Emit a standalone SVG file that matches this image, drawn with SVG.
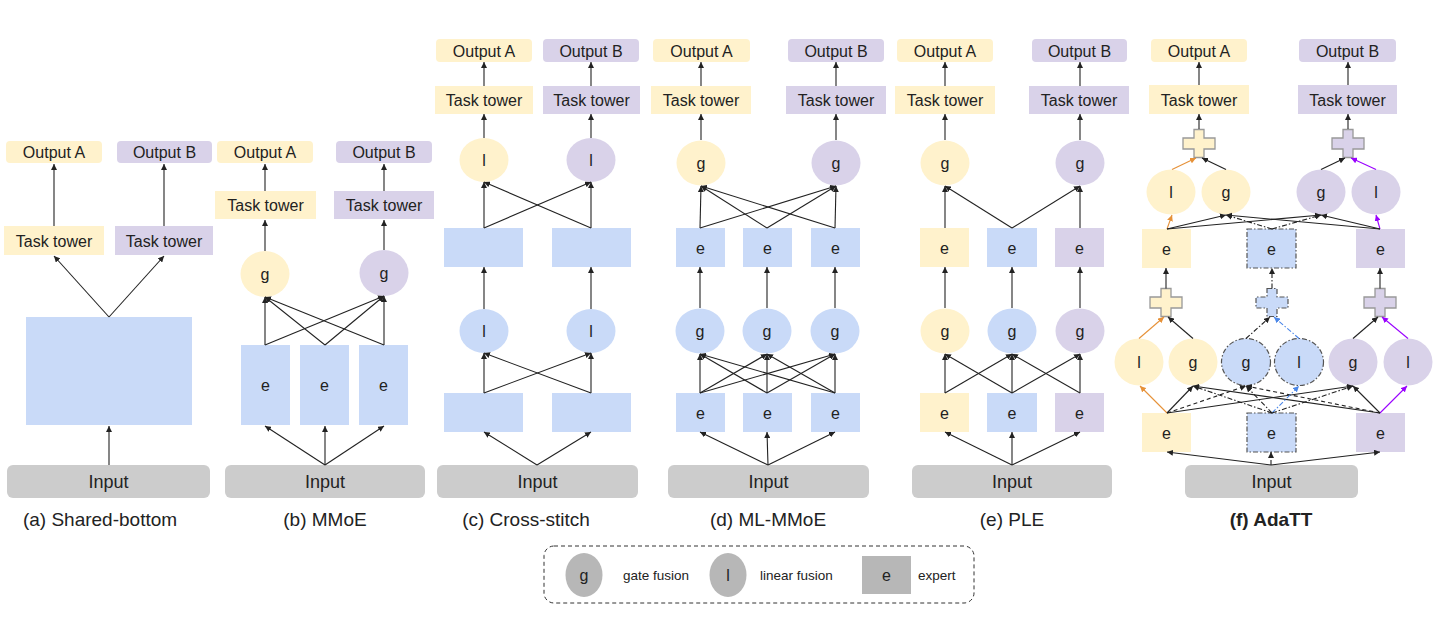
<svg xmlns="http://www.w3.org/2000/svg" width="1435" height="642" viewBox="0 0 1435 642">
<style>
text{font-family:"Liberation Sans",Arial,sans-serif;font-size:16px;fill:#222;text-anchor:middle}
.in{font-size:18px}
.cap{font-size:19px}
.bold{font-weight:bold}
.lgt{font-size:13.5px;text-anchor:start}
.yl{fill:#fff2cc}.pu{fill:#d9d2e9}.bl{fill:#c9daf8}.gr{fill:#cccccc}.lg{fill:#b7b7b7}
.ln{stroke:#222;stroke-width:1.1;fill:none;marker-end:url(#a)}
.or{stroke:#e69138;marker-end:url(#ao)}
.pp{stroke:#9900ff;marker-end:url(#ap)}
.bd{stroke:#4a86e8;marker-end:url(#ab)}
.dd{stroke-dasharray:5 2 1.5 2}
.ds{stroke-dasharray:4 3}
.bdr{stroke:#555;stroke-width:1.2;stroke-dasharray:5 2 1.5 2}
.plus{stroke:#999;stroke-width:1.3}
</style>
<defs>
<marker id="a" viewBox="0 0 6 6" refX="6" refY="3" markerWidth="6" markerHeight="6" markerUnits="userSpaceOnUse" orient="auto"><path d="M0,0L6,3L0,6z" fill="#222"/></marker>
<marker id="ao" viewBox="0 0 6 6" refX="6" refY="3" markerWidth="6" markerHeight="6" markerUnits="userSpaceOnUse" orient="auto"><path d="M0,0L6,3L0,6z" fill="#e69138"/></marker>
<marker id="ap" viewBox="0 0 6 6" refX="6" refY="3" markerWidth="6" markerHeight="6" markerUnits="userSpaceOnUse" orient="auto"><path d="M0,0L6,3L0,6z" fill="#9900ff"/></marker>
<marker id="ab" viewBox="0 0 6 6" refX="6" refY="3" markerWidth="6" markerHeight="6" markerUnits="userSpaceOnUse" orient="auto"><path d="M0,0L6,3L0,6z" fill="#4a86e8"/></marker>
<path id="plus" d="M-5,-14H5V-5.5H16V5.5H5V14H-5V5.5H-16V-5.5H-5Z"/>
</defs>

<!-- (a) Shared-bottom -->
<g id="a-outA"><rect class="yl" x="6" y="141" width="96" height="22" rx="4"/><text x="54" y="158">Output A</text></g>
<g id="a-outB"><rect class="pu" x="117" y="141" width="95" height="22" rx="4"/><text x="164.5" y="158">Output B</text></g>
<g id="a-towA"><rect class="yl" x="4" y="226" width="100" height="29"/><text x="54" y="246.5">Task tower</text></g>
<g id="a-towB"><rect class="pu" x="115" y="226" width="98" height="29"/><text x="164" y="246.5">Task tower</text></g>
<g id="a-shared"><rect class="bl" x="26" y="317" width="166" height="108"/></g>
<g id="a-input"><rect class="gr" x="7" y="465" width="203" height="33" rx="6"/><text class="in" x="108.5" y="488">Input</text></g>
<text class="cap" x="100" y="526">(a) Shared-bottom</text>

<!-- (b) MMoE -->
<g id="b-outA"><rect class="yl" x="217" y="141" width="96" height="22" rx="4"/><text x="265" y="158">Output A</text></g>
<g id="b-outB"><rect class="pu" x="336" y="141" width="96" height="22" rx="4"/><text x="384" y="158">Output B</text></g>
<g id="b-towA"><rect class="yl" x="215" y="191" width="101" height="28"/><text x="265.5" y="211">Task tower</text></g>
<g id="b-towB"><rect class="pu" x="334" y="191" width="100" height="28"/><text x="384" y="211">Task tower</text></g>
<g id="b-gA"><ellipse class="yl" cx="265" cy="274" rx="24.5" ry="23"/><text x="265" y="280">g</text></g>
<g id="b-gB"><ellipse class="pu" cx="384" cy="273" rx="24.5" ry="23"/><text x="384" y="279">g</text></g>
<g id="b-e1"><rect class="bl" x="241" y="345" width="49" height="80"/><text x="265.5" y="391">e</text></g>
<g id="b-e2"><rect class="bl" x="300" y="345" width="49" height="80"/><text x="324.5" y="391">e</text></g>
<g id="b-e3"><rect class="bl" x="359" y="345" width="49" height="80"/><text x="383.5" y="391">e</text></g>
<g id="b-input"><rect class="gr" x="225" y="465" width="200" height="33" rx="6"/><text class="in" x="325" y="488">Input</text></g>
<text class="cap" x="325" y="526">(b) MMoE</text>

<!-- (c) Cross-stitch -->
<g id="c-outA"><rect class="yl" x="436" y="39" width="96" height="23" rx="4"/><text x="484" y="56.5">Output A</text></g>
<g id="c-outB"><rect class="pu" x="543" y="39" width="96" height="23" rx="4"/><text x="591" y="56.5">Output B</text></g>
<g id="c-towA"><rect class="yl" x="435" y="86" width="98" height="28"/><text x="484" y="106">Task tower</text></g>
<g id="c-towB"><rect class="pu" x="543" y="86" width="97" height="28"/><text x="591.5" y="106">Task tower</text></g>
<g id="c-lA"><ellipse class="yl" cx="484" cy="160" rx="24.5" ry="22"/><text x="484" y="166">l</text></g>
<g id="c-lB"><ellipse class="pu" cx="591" cy="160" rx="24.5" ry="22"/><text x="591" y="166">l</text></g>
<g id="c-u1"><rect class="bl" x="444" y="228" width="79" height="39"/></g>
<g id="c-u2"><rect class="bl" x="552" y="228" width="79" height="39"/></g>
<g id="c-l1"><ellipse class="bl" cx="484" cy="331" rx="24.5" ry="22"/><text x="484" y="337">l</text></g>
<g id="c-l2"><ellipse class="bl" cx="591" cy="331" rx="24.5" ry="22"/><text x="591" y="337">l</text></g>
<g id="c-d1"><rect class="bl" x="444" y="393" width="79" height="39"/></g>
<g id="c-d2"><rect class="bl" x="552" y="393" width="79" height="39"/></g>
<g id="c-input"><rect class="gr" x="437" y="465" width="201" height="33" rx="6"/><text class="in" x="537.5" y="488">Input</text></g>
<text class="cap" x="526" y="526">(c) Cross-stitch</text>

<!-- (d) ML-MMoE -->
<g id="d-outA"><rect class="yl" x="653" y="39" width="97" height="23" rx="4"/><text x="701.5" y="56.5">Output A</text></g>
<g id="d-outB"><rect class="pu" x="788" y="39" width="96" height="23" rx="4"/><text x="836" y="56.5">Output B</text></g>
<g id="d-towA"><rect class="yl" x="651" y="86" width="100" height="28"/><text x="701" y="106">Task tower</text></g>
<g id="d-towB"><rect class="pu" x="786" y="86" width="100" height="28"/><text x="836" y="106">Task tower</text></g>
<g id="d-gA"><ellipse class="yl" cx="701" cy="163" rx="24.5" ry="22.5"/><text x="701" y="169">g</text></g>
<g id="d-gB"><ellipse class="pu" cx="836" cy="163" rx="24.5" ry="22.5"/><text x="836" y="169">g</text></g>
<g id="d-ue1"><rect class="bl" x="676" y="228" width="49" height="39"/><text x="700.5" y="253.5">e</text></g>
<g id="d-ue2"><rect class="bl" x="743" y="228" width="49" height="39"/><text x="767.5" y="253.5">e</text></g>
<g id="d-ue3"><rect class="bl" x="811" y="228" width="49" height="39"/><text x="835.5" y="253.5">e</text></g>
<g id="d-g1"><ellipse class="bl" cx="700" cy="331" rx="24.5" ry="22.5"/><text x="700" y="337">g</text></g>
<g id="d-g2"><ellipse class="bl" cx="767" cy="331" rx="24.5" ry="22.5"/><text x="767" y="337">g</text></g>
<g id="d-g3"><ellipse class="bl" cx="835" cy="331" rx="24.5" ry="22.5"/><text x="835" y="337">g</text></g>
<g id="d-le1"><rect class="bl" x="676" y="393" width="49" height="39"/><text x="700.5" y="418.5">e</text></g>
<g id="d-le2"><rect class="bl" x="743" y="393" width="49" height="39"/><text x="767.5" y="418.5">e</text></g>
<g id="d-le3"><rect class="bl" x="811" y="393" width="49" height="39"/><text x="835.5" y="418.5">e</text></g>
<g id="d-input"><rect class="gr" x="668" y="465" width="201" height="33" rx="6"/><text class="in" x="768.5" y="488">Input</text></g>
<text class="cap" x="768" y="526">(d) ML-MMoE</text>

<!-- (e) PLE -->
<g id="e-outA"><rect class="yl" x="897" y="39" width="96" height="23" rx="4"/><text x="945" y="56.5">Output A</text></g>
<g id="e-outB"><rect class="pu" x="1032" y="39" width="95" height="23" rx="4"/><text x="1079.5" y="56.5">Output B</text></g>
<g id="e-towA"><rect class="yl" x="895" y="86" width="100" height="28"/><text x="945" y="106">Task tower</text></g>
<g id="e-towB"><rect class="pu" x="1029" y="86" width="100" height="28"/><text x="1079" y="106">Task tower</text></g>
<g id="e-gA"><ellipse class="yl" cx="945" cy="163" rx="24.5" ry="22.5"/><text x="945" y="169">g</text></g>
<g id="e-gB"><ellipse class="pu" cx="1080" cy="163" rx="24.5" ry="22.5"/><text x="1080" y="169">g</text></g>
<g id="e-ue1"><rect class="yl" x="920" y="228" width="49" height="39"/><text x="944.5" y="253.5">e</text></g>
<g id="e-ue2"><rect class="bl" x="987" y="228" width="50" height="39"/><text x="1012" y="253.5">e</text></g>
<g id="e-ue3"><rect class="pu" x="1055" y="228" width="49" height="39"/><text x="1079.5" y="253.5">e</text></g>
<g id="e-g1"><ellipse class="yl" cx="945" cy="331" rx="24.5" ry="22.5"/><text x="945" y="337">g</text></g>
<g id="e-g2"><ellipse class="bl" cx="1012" cy="331" rx="24.5" ry="22.5"/><text x="1012" y="337">g</text></g>
<g id="e-g3"><ellipse class="pu" cx="1080" cy="331" rx="24.5" ry="22.5"/><text x="1080" y="337">g</text></g>
<g id="e-le1"><rect class="yl" x="920" y="393" width="49" height="39"/><text x="944.5" y="418.5">e</text></g>
<g id="e-le2"><rect class="bl" x="987" y="393" width="50" height="39"/><text x="1012" y="418.5">e</text></g>
<g id="e-le3"><rect class="pu" x="1055" y="393" width="49" height="39"/><text x="1079.5" y="418.5">e</text></g>
<g id="e-input"><rect class="gr" x="912" y="465" width="200" height="33" rx="6"/><text class="in" x="1012" y="488">Input</text></g>
<text class="cap" x="1012" y="526">(e) PLE</text>

<!-- (f) AdaTT -->
<g id="f-outA"><rect class="yl" x="1151" y="39" width="96" height="23" rx="4"/><text x="1199" y="56.5">Output A</text></g>
<g id="f-outB"><rect class="pu" x="1299" y="39" width="97" height="23" rx="4"/><text x="1347.5" y="56.5">Output B</text></g>
<g id="f-towA"><rect class="yl" x="1149" y="85" width="100" height="29"/><text x="1199" y="105.5">Task tower</text></g>
<g id="f-towB"><rect class="pu" x="1298" y="85" width="99" height="29"/><text x="1347.5" y="105.5">Task tower</text></g>
<g id="f-plusA"><use href="#plus" x="1199" y="143.5" class="yl plus"/></g>
<g id="f-plusB"><use href="#plus" x="1348" y="143.5" class="pu plus"/></g>
<g id="f-lA"><ellipse class="yl" cx="1171" cy="192" rx="24.5" ry="22.5"/><text x="1171" y="198">l</text></g>
<g id="f-gA"><ellipse class="yl" cx="1226" cy="192" rx="24.5" ry="22.5"/><text x="1226" y="198">g</text></g>
<g id="f-gB"><ellipse class="pu" cx="1321" cy="192" rx="24.5" ry="22.5"/><text x="1321" y="198">g</text></g>
<g id="f-lB"><ellipse class="pu" cx="1376" cy="192" rx="24.5" ry="22.5"/><text x="1376" y="198">l</text></g>
<g id="f-ue1"><rect class="yl" x="1142" y="229" width="49" height="39"/><text x="1166.5" y="254.5">e</text></g>
<g id="f-ue2"><rect class="bl bdr" x="1247" y="229" width="49" height="39"/><text x="1271.5" y="254.5">e</text></g>
<g id="f-ue3"><rect class="pu" x="1356" y="229" width="49" height="39"/><text x="1380.5" y="254.5">e</text></g>
<g id="f-plus1"><use href="#plus" x="1166" y="302.5" class="yl plus"/></g>
<g id="f-plus2"><use href="#plus" x="1272" y="302.5" class="bl bdr"/></g>
<g id="f-plus3"><use href="#plus" x="1380" y="302.5" class="pu plus"/></g>
<g id="f-l1"><ellipse class="yl" cx="1139" cy="362" rx="24.5" ry="23.5"/><text x="1139" y="368">l</text></g>
<g id="f-g1"><ellipse class="yl" cx="1193" cy="362" rx="24.5" ry="23.5"/><text x="1193" y="368">g</text></g>
<g id="f-g2"><ellipse class="bl bdr" cx="1246" cy="362" rx="24.5" ry="23.5"/><text x="1246" y="368">g</text></g>
<g id="f-l2"><ellipse class="bl bdr" cx="1299" cy="362" rx="24.5" ry="23.5"/><text x="1299" y="368">l</text></g>
<g id="f-g3"><ellipse class="pu" cx="1353" cy="362" rx="24.5" ry="23.5"/><text x="1353" y="368">g</text></g>
<g id="f-l3"><ellipse class="pu" cx="1408" cy="362" rx="24.5" ry="23.5"/><text x="1408" y="368">l</text></g>
<g id="f-le1"><rect class="yl" x="1142" y="413" width="49" height="39"/><text x="1166.5" y="438.5">e</text></g>
<g id="f-le2"><rect class="bl bdr" x="1247" y="413" width="49" height="39"/><text x="1271.5" y="438.5">e</text></g>
<g id="f-le3"><rect class="pu" x="1356" y="413" width="49" height="39"/><text x="1380.5" y="438.5">e</text></g>
<g id="f-input"><rect class="gr" x="1185" y="465" width="173" height="33" rx="6"/><text class="in" x="1271.5" y="488">Input</text></g>
<text class="cap bold" x="1271" y="526">(f) AdaTT</text>

<!-- Legend -->
<g id="legend">
<rect x="544" y="546" width="430" height="57" rx="10" fill="none" stroke="#333" stroke-width="1" stroke-dasharray="4 3"/>
<ellipse class="lg" cx="584" cy="575" rx="18.5" ry="22"/><text x="584" y="581">g</text>
<text class="lgt" x="623" y="580">gate fusion</text>
<ellipse class="lg" cx="728" cy="575" rx="18.5" ry="22"/><text x="728" y="581">l</text>
<text class="lgt" x="760" y="580">linear fusion</text>
<rect class="lg" x="862" y="556" width="49" height="38"/><text x="886.5" y="581">e</text>
<text class="lgt" x="918" y="580">expert</text>
</g>

<g id="connectors">
<!-- a -->
<line class="ln" x1="54" y1="226" x2="54" y2="164"/>
<line class="ln" x1="164" y1="226" x2="164" y2="164"/>
<line class="ln" x1="109" y1="317" x2="54" y2="256"/>
<line class="ln" x1="109" y1="317" x2="164" y2="256"/>
<line class="ln" x1="109" y1="465" x2="109" y2="426"/>
<!-- b -->
<line class="ln" x1="265" y1="191" x2="265" y2="164"/>
<line class="ln" x1="384" y1="191" x2="384" y2="164"/>
<line class="ln" x1="265" y1="251" x2="265" y2="220"/>
<line class="ln" x1="384" y1="250" x2="384" y2="220"/>
<line class="ln" x1="265" y1="345" x2="265" y2="297"/>
<line class="ln" x1="265" y1="345" x2="384" y2="296"/>
<line class="ln" x1="325" y1="345" x2="265" y2="297"/>
<line class="ln" x1="325" y1="345" x2="384" y2="296"/>
<line class="ln" x1="384" y1="345" x2="265" y2="297"/>
<line class="ln" x1="384" y1="345" x2="384" y2="296"/>
<line class="ln" x1="325" y1="465" x2="265" y2="426"/>
<line class="ln" x1="325" y1="465" x2="325" y2="426"/>
<line class="ln" x1="325" y1="465" x2="384" y2="426"/>
<!-- c -->
<line class="ln" x1="484" y1="86" x2="484" y2="62"/>
<line class="ln" x1="591" y1="86" x2="591" y2="62"/>
<line class="ln" x1="484" y1="138" x2="484" y2="114"/>
<line class="ln" x1="591" y1="138" x2="591" y2="114"/>
<line class="ln" x1="484" y1="228" x2="484" y2="182"/>
<line class="ln" x1="484" y1="228" x2="591" y2="182"/>
<line class="ln" x1="591" y1="228" x2="484" y2="182"/>
<line class="ln" x1="591" y1="228" x2="591" y2="182"/>
<line class="ln" x1="484" y1="309" x2="484" y2="267"/>
<line class="ln" x1="591" y1="309" x2="591" y2="267"/>
<line class="ln" x1="484" y1="393" x2="484" y2="353"/>
<line class="ln" x1="484" y1="393" x2="591" y2="353"/>
<line class="ln" x1="591" y1="393" x2="484" y2="353"/>
<line class="ln" x1="591" y1="393" x2="591" y2="353"/>
<line class="ln" x1="537" y1="465" x2="484" y2="432"/>
<line class="ln" x1="537" y1="465" x2="591" y2="432"/>
<!-- d -->
<line class="ln" x1="701" y1="86" x2="701" y2="62"/>
<line class="ln" x1="836" y1="86" x2="836" y2="62"/>
<line class="ln" x1="701" y1="140" x2="701" y2="114"/>
<line class="ln" x1="836" y1="140" x2="836" y2="114"/>
<line class="ln" x1="700" y1="228" x2="701" y2="186"/>
<line class="ln" x1="700" y1="228" x2="836" y2="186"/>
<line class="ln" x1="767" y1="228" x2="701" y2="186"/>
<line class="ln" x1="767" y1="228" x2="836" y2="186"/>
<line class="ln" x1="835" y1="228" x2="701" y2="186"/>
<line class="ln" x1="835" y1="228" x2="836" y2="186"/>
<line class="ln" x1="700" y1="308" x2="700" y2="267"/>
<line class="ln" x1="767" y1="308" x2="767" y2="267"/>
<line class="ln" x1="835" y1="308" x2="835" y2="267"/>
<line class="ln" x1="700" y1="393" x2="700" y2="354"/>
<line class="ln" x1="700" y1="393" x2="767" y2="354"/>
<line class="ln" x1="700" y1="393" x2="835" y2="354"/>
<line class="ln" x1="767" y1="393" x2="700" y2="354"/>
<line class="ln" x1="767" y1="393" x2="767" y2="354"/>
<line class="ln" x1="767" y1="393" x2="835" y2="354"/>
<line class="ln" x1="835" y1="393" x2="700" y2="354"/>
<line class="ln" x1="835" y1="393" x2="767" y2="354"/>
<line class="ln" x1="835" y1="393" x2="835" y2="354"/>
<line class="ln" x1="768" y1="465" x2="700" y2="432"/>
<line class="ln" x1="768" y1="465" x2="767" y2="432"/>
<line class="ln" x1="768" y1="465" x2="835" y2="432"/>
<!-- e -->
<line class="ln" x1="945" y1="86" x2="945" y2="62"/>
<line class="ln" x1="1080" y1="86" x2="1080" y2="62"/>
<line class="ln" x1="945" y1="140" x2="945" y2="114"/>
<line class="ln" x1="1080" y1="140" x2="1080" y2="114"/>
<line class="ln" x1="945" y1="228" x2="945" y2="186"/>
<line class="ln" x1="1012" y1="228" x2="945" y2="186"/>
<line class="ln" x1="1012" y1="228" x2="1080" y2="186"/>
<line class="ln" x1="1080" y1="228" x2="1080" y2="186"/>
<line class="ln" x1="945" y1="308" x2="945" y2="267"/>
<line class="ln" x1="1012" y1="308" x2="1012" y2="267"/>
<line class="ln" x1="1080" y1="308" x2="1080" y2="267"/>
<line class="ln" x1="945" y1="393" x2="945" y2="354"/>
<line class="ln" x1="945" y1="393" x2="1012" y2="354"/>
<line class="ln" x1="1012" y1="393" x2="945" y2="354"/>
<line class="ln" x1="1012" y1="393" x2="1012" y2="354"/>
<line class="ln" x1="1012" y1="393" x2="1080" y2="354"/>
<line class="ln" x1="1080" y1="393" x2="1012" y2="354"/>
<line class="ln" x1="1080" y1="393" x2="1080" y2="354"/>
<line class="ln" x1="1012" y1="465" x2="945" y2="432"/>
<line class="ln" x1="1012" y1="465" x2="1012" y2="432"/>
<line class="ln" x1="1012" y1="465" x2="1080" y2="432"/>
<!-- f -->
<line class="ln" x1="1199" y1="85" x2="1199" y2="62"/>
<line class="ln" x1="1348" y1="85" x2="1348" y2="62"/>
<line class="ln" x1="1199" y1="129" x2="1199" y2="114"/>
<line class="ln" x1="1348" y1="129" x2="1348" y2="114"/>
<line class="ln or" x1="1172" y1="169.5" x2="1196" y2="158"/>
<line class="ln" x1="1226" y1="169.5" x2="1202" y2="158"/>
<line class="ln" x1="1321" y1="169.5" x2="1345" y2="158"/>
<line class="ln pp" x1="1376" y1="169.5" x2="1351" y2="158"/>
<line class="ln or" x1="1167" y1="229" x2="1172" y2="215"/>
<line class="ln" x1="1167" y1="229" x2="1226" y2="215"/>
<line class="ln" x1="1167" y1="229" x2="1321" y2="215"/>
<line class="ln pp" x1="1380" y1="229" x2="1376" y2="215"/>
<line class="ln" x1="1380" y1="229" x2="1321" y2="215"/>
<line class="ln" x1="1380" y1="229" x2="1226" y2="215"/>
<line class="ln dd" x1="1272" y1="229" x2="1226" y2="215"/>
<line class="ln dd" x1="1272" y1="229" x2="1321" y2="215"/>
<line class="ln" x1="1166" y1="288.5" x2="1166" y2="268"/>
<line class="ln dd" x1="1272" y1="288.5" x2="1272" y2="268"/>
<line class="ln" x1="1380" y1="288.5" x2="1380" y2="268"/>
<line class="ln or" x1="1139" y1="338.5" x2="1164" y2="317"/>
<line class="ln" x1="1193" y1="338.5" x2="1168" y2="317"/>
<line class="ln dd" x1="1246" y1="338.5" x2="1270" y2="317"/>
<line class="ln bd dd" x1="1299" y1="338.5" x2="1274" y2="317"/>
<line class="ln" x1="1353" y1="338.5" x2="1378" y2="317"/>
<line class="ln pp" x1="1408" y1="338.5" x2="1382" y2="317"/>
<line class="ln or" x1="1167" y1="413" x2="1140" y2="386"/>
<line class="ln" x1="1167" y1="413" x2="1193" y2="386"/>
<line class="ln" x1="1167" y1="413" x2="1353" y2="386"/>
<line class="ln ds" x1="1167" y1="413" x2="1246" y2="386"/>
<line class="ln pp" x1="1380" y1="413" x2="1407" y2="386"/>
<line class="ln" x1="1380" y1="413" x2="1353" y2="386"/>
<line class="ln" x1="1380" y1="413" x2="1193" y2="386"/>
<line class="ln ds" x1="1380" y1="413" x2="1246" y2="386"/>
<line class="ln bd dd" x1="1272" y1="413" x2="1299" y2="386"/>
<line class="ln dd" x1="1272" y1="413" x2="1246" y2="386"/>
<line class="ln dd" x1="1272" y1="413" x2="1193" y2="386"/>
<line class="ln dd" x1="1272" y1="413" x2="1353" y2="386"/>
<line class="ln" x1="1271" y1="465" x2="1167" y2="452"/>
<line class="ln" x1="1271" y1="465" x2="1380" y2="452"/>
<line class="ln dd" x1="1271" y1="465" x2="1271" y2="452"/>
</g>
</svg>
